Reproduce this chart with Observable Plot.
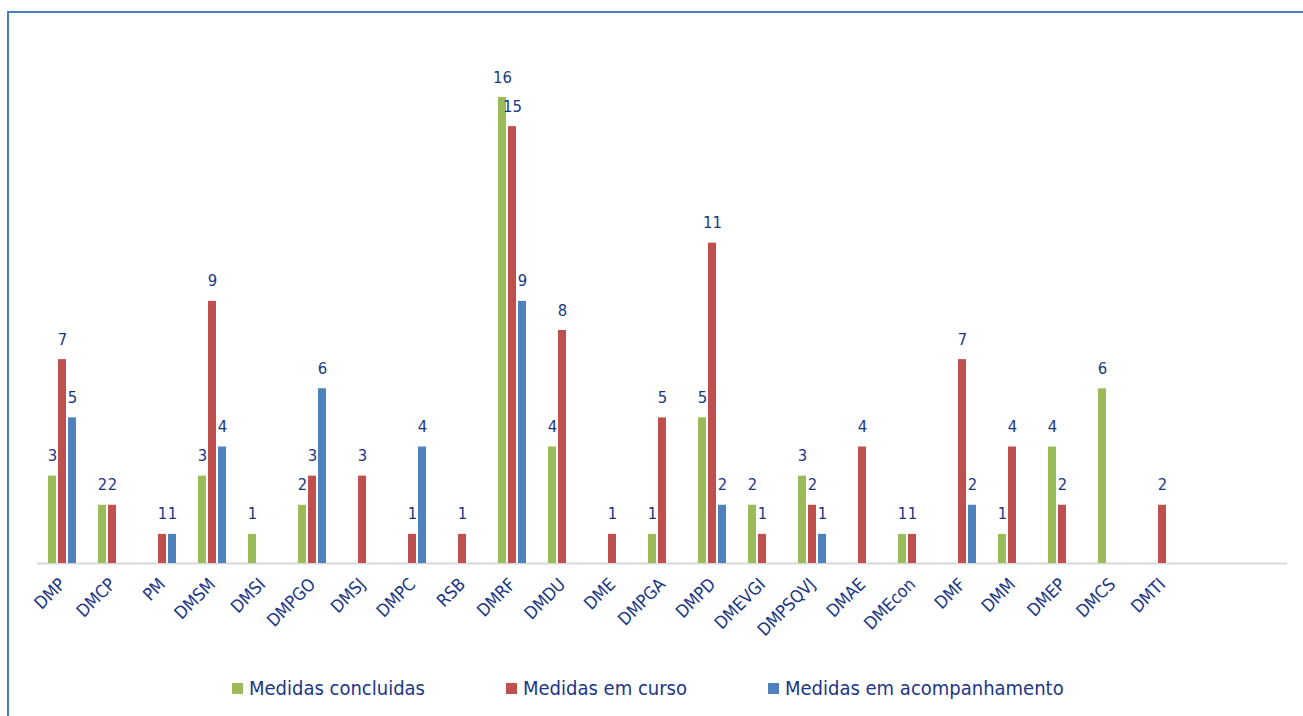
<!DOCTYPE html>
<html>
<head>
<meta charset="utf-8">
<script src="https://cdn.jsdelivr.net/npm/d3@7"></script>
<script src="https://cdn.jsdelivr.net/npm/@observablehq/plot@0.6"></script>
<style>
  html, body { margin: 0; padding: 0; background: #fff; overflow: hidden; }
  #page {
    position: relative; width: 1303px; height: 716px; overflow: hidden;
    font-family: "DejaVu Sans Condensed", "DejaVu Sans", sans-serif;
  }
  #frame {
    position: absolute; left: 7px; top: 11px; width: 1400px; height: 800px;
    border-top: 2px solid #4A7EBB; border-left: 2px solid #4A7EBB;
  }
  #chart { position: absolute; left: 0; top: 0; }
  #legend {
    position: absolute; left: 232px; top: 676px;
    display: flex; gap: 81px; align-items: center;
    font-size: 20px; color: #1c3687;
  }
  .item { display: flex; align-items: center; gap: 6px; white-space: nowrap; }
  .swatch { width: 11px; height: 11px; display: inline-block; }
</style>
</head>
<body>
<div id="page">
  <div id="frame"></div>
  <div id="chart"></div>
  <div id="legend"></div>
</div>
<script>
// Departments (one group of bars each)
const categories = ["DMP", "DMCP", "PM", "DMSM", "DMSI", "DMPGO", "DMSJ", "DMPC", "RSB", "DMRF",
  "DMDU", "DME", "DMPGA", "DMPD", "DMEVGI", "DMPSQVJ", "DMAE", "DMEcon", "DMF", "DMM",
  "DMEP", "DMCS", "DMTI"];
// Two unlabeled slots keep the axis running on past the last group
const emptySlots = ["", " "];

const seriesNames = ["Medidas concluidas", "Medidas em curso", "Medidas em acompanhamento"];
const seriesColors = ["#9BBB59", "#C0504D", "#4F81BD"];

const concluidas     = [3, 2, 0, 3, 1, 2, 0, 0, 0, 16, 4, 0, 1, 5, 2, 3, 0, 1, 0, 1, 4, 6, 0];
const emCurso        = [7, 2, 1, 9, 0, 3, 3, 1, 1, 15, 8, 1, 5, 11, 1, 2, 4, 1, 7, 4, 2, 0, 2];
const acompanhamento = [5, 0, 1, 4, 0, 6, 0, 4, 0, 9, 0, 0, 0, 2, 0, 1, 0, 0, 2, 0, 0, 0, 0];

const seriesValues = [concluidas, emCurso, acompanhamento];

// Long table: one row per (department, series) with a non-zero count
const rows = [];
categories.forEach((c, i) => {
  seriesNames.forEach((s, j) => {
    const v = seriesValues[j][i];
    if (v > 0) rows.push({dept: c, series: s, value: v});
  });
});

const slots = categories.concat(emptySlots);
const textColor = "#1c3687";
const font = `"DejaVu Sans Condensed", "DejaVu Sans", sans-serif`;

const chart = Plot.plot({
  width: 1303,
  height: 640,
  marginTop: 97,
  marginBottom: 77,
  marginLeft: 26,
  marginRight: 6,
  style: {fontFamily: font, color: textColor, background: "transparent"},
  fx: {domain: slots, padding: 0, label: null},
  x: {domain: seriesNames, paddingInner: 0, paddingOuter: 0.875, axis: null},
  y: {domain: [0, 16], axis: null},
  color: {domain: seriesNames, range: seriesColors},
  marks: [
    Plot.ruleY(slots, {fx: d => d, y: () => 0, stroke: "#D9D9D9", strokeWidth: 2}),
    Plot.barY(rows, {
      fx: "dept", x: "series", y: "value", fill: "series",
      insetLeft: 1, insetRight: 1
    }),
    Plot.text(rows, {
      fx: "dept", x: "series", y: "value", text: d => String(d.value),
      lineAnchor: "bottom", dy: -15, fill: textColor, fontSize: 16.5
    }),
    Plot.axisFx({
      anchor: "bottom", tickSize: 0, tickPadding: 18, tickRotate: -45,
      fontSize: 17.5, fill: textColor, label: null
    })
  ]
});
document.getElementById("chart").appendChild(chart);

// Legend below the plot
const legend = document.getElementById("legend");
seriesNames.forEach((name, i) => {
  const item = document.createElement("div");
  item.className = "item";
  const sw = document.createElement("span");
  sw.className = "swatch";
  sw.style.background = seriesColors[i];
  const label = document.createElement("span");
  label.textContent = name;
  item.appendChild(sw);
  item.appendChild(label);
  legend.appendChild(item);
});
</script>
</body>
</html>
